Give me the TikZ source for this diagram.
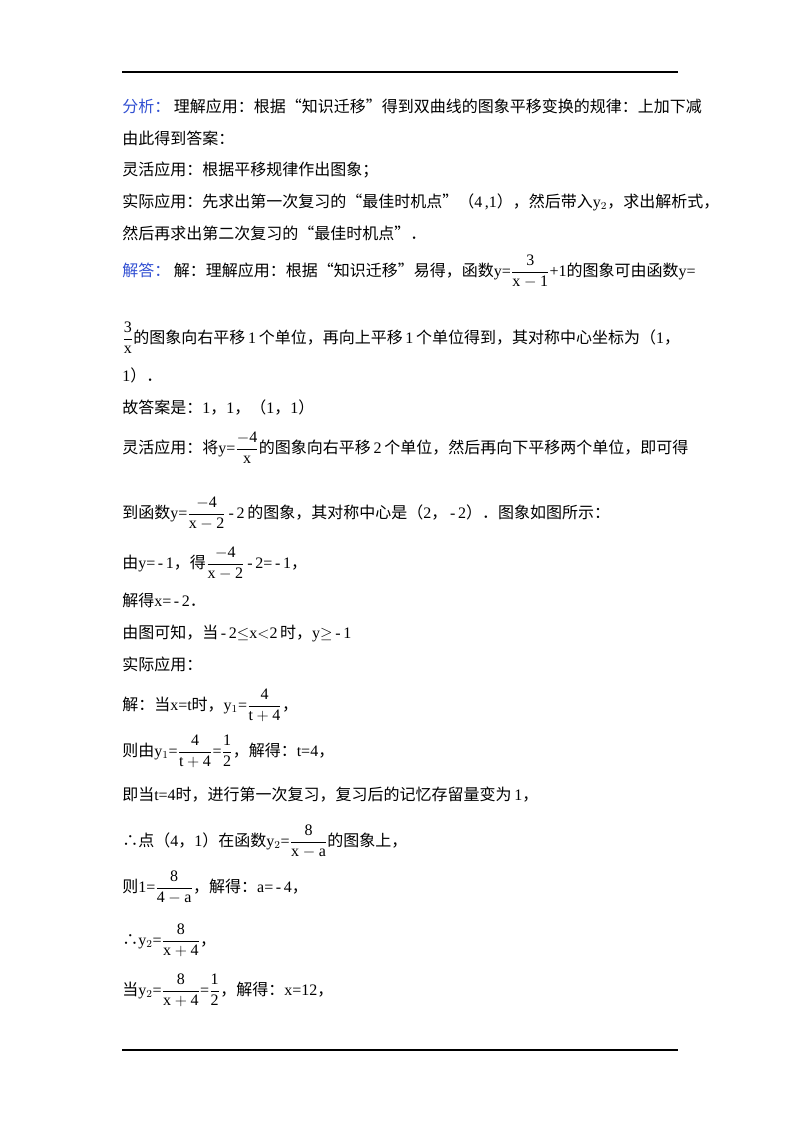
\documentclass[tikz,border=0pt]{standalone}
\usepackage{fontspec}
\setmainfont{Liberation Serif}
\newfontfamily\zhf{Noto Sans CJK SC}
\newcommand{\zh}[1]{{\zhf #1}}
\newcommand{\fr}[2]{$\displaystyle\frac{\mathrm{#1}}{\mathrm{#2}}$}
\definecolor{lbl}{RGB}{50,80,210}
\begin{document}
\begin{tikzpicture}[x=0.75pt,y=-0.75pt,
  ln/.style={anchor=base west,inner sep=0pt,font=\fontsize{12}{14}\selectfont}]
\useasboundingbox (0,0) rectangle (800,1132);
\draw[line width=0.8pt] (122,72) -- (678,72);
\draw[line width=0.8pt] (122,1050) -- (678,1050);
\node[ln] (l1) at (122,112) {\zh{\textcolor{lbl}{分析：}\ 理解应用：根据“知识迁移”得到双曲线的图象平移变换的规律：上加下减}};
\node[ln] (l2) at (122,144) {\zh{由此得到答案：}};
\node[ln] (l3) at (122,175) {\zh{灵活应用：根据平移规律作出图象；}};
\node[ln] (l4) at (122,207) {\zh{实际应用：先求出第一次复习的“最佳时机点”（}4\,,1\zh{），然后带入}y$_2$\zh{，求出解析式，}};
\node[ln] (l5) at (122,239) {\zh{然后再求出第二次复习的“最佳时机点”．}};
\node[ln] (l6) at (122,276) {\zh{\textcolor{lbl}{解答：}\ 解：理解应用：根据“知识迁移”易得，函数}y=\fr{3}{x-1}+1\zh{的图象可由函数}y=};
\node[ln] (l7) at (122,343) {\fr{3}{x}\zh{的图象向右平移}\,1\,\zh{个单位，再向上平移}\,1\,\zh{个单位得到，其对称中心坐标为（}1\zh{，}};
\node[ln] (l8) at (122,381) {1\zh{）．}};
\node[ln] (l9) at (122,413) {\zh{故答案是：}1\zh{，}1\zh{，（}1\zh{，}1\zh{）}};
\node[ln] (l10) at (122,453) {\zh{灵活应用：将}y=\fr{-4}{x}\zh{的图象向右平移}\,2\,\zh{个单位，然后再向下平移两个单位，即可得}};
\node[ln] (l11) at (122,518) {\zh{到函数}y=\fr{-4}{x-2}\,-\,2\,\zh{的图象，其对称中心是（}2\zh{，}\,-\,2\zh{）．图象如图所示：}};
\node[ln] (l12) at (122,568) {\zh{由}y=\,-\,1\zh{，得}\fr{-4}{x-2}\,-\,2=\,-\,1\zh{，}};
\node[ln] (l13) at (122,606) {\zh{解得}x=\,-\,2\zh{．}};
\node[ln] (l14) at (122,638) {\zh{由图可知，当}\,-\,2$\le$x$<$2\,\zh{时，}y$\ge$\,-\,1};
\node[ln] (l15) at (122,670) {\zh{实际应用：}};
\node[ln] (l16) at (122,710) {\zh{解：当}x=t\zh{时，}y$_1$=\fr{4}{t+4}\zh{，}};
\node[ln] (l17) at (122,756) {\zh{则由}y$_1$=\fr{4}{t+4}=\fr{1}{2}\zh{，解得：}t=4\zh{，}};
\node[ln] (l18) at (122,800) {\zh{即当}t=4\zh{时，进行第一次复习，复习后的记忆存留量变为}\,1\zh{，}};
\node[ln] (l19) at (122,846) {\zh{∴点（}4\zh{，}1\zh{）在函数}y$_2$=\fr{8}{x-a}\zh{的图象上，}};
\node[ln] (l20) at (122,892) {\zh{则}1=\fr{8}{4-a}\zh{，解得：}a=\,-\,4\zh{，}};
\node[ln] (l21) at (122,945) {\zh{∴}y$_2$=\fr{8}{x+4}\zh{，}};
\node[ln] (l22) at (122,995) {\zh{当}y$_2$=\fr{8}{x+4}=\fr{1}{2}\zh{，解得：}x=12\zh{，}};
\end{tikzpicture}
\end{document}
